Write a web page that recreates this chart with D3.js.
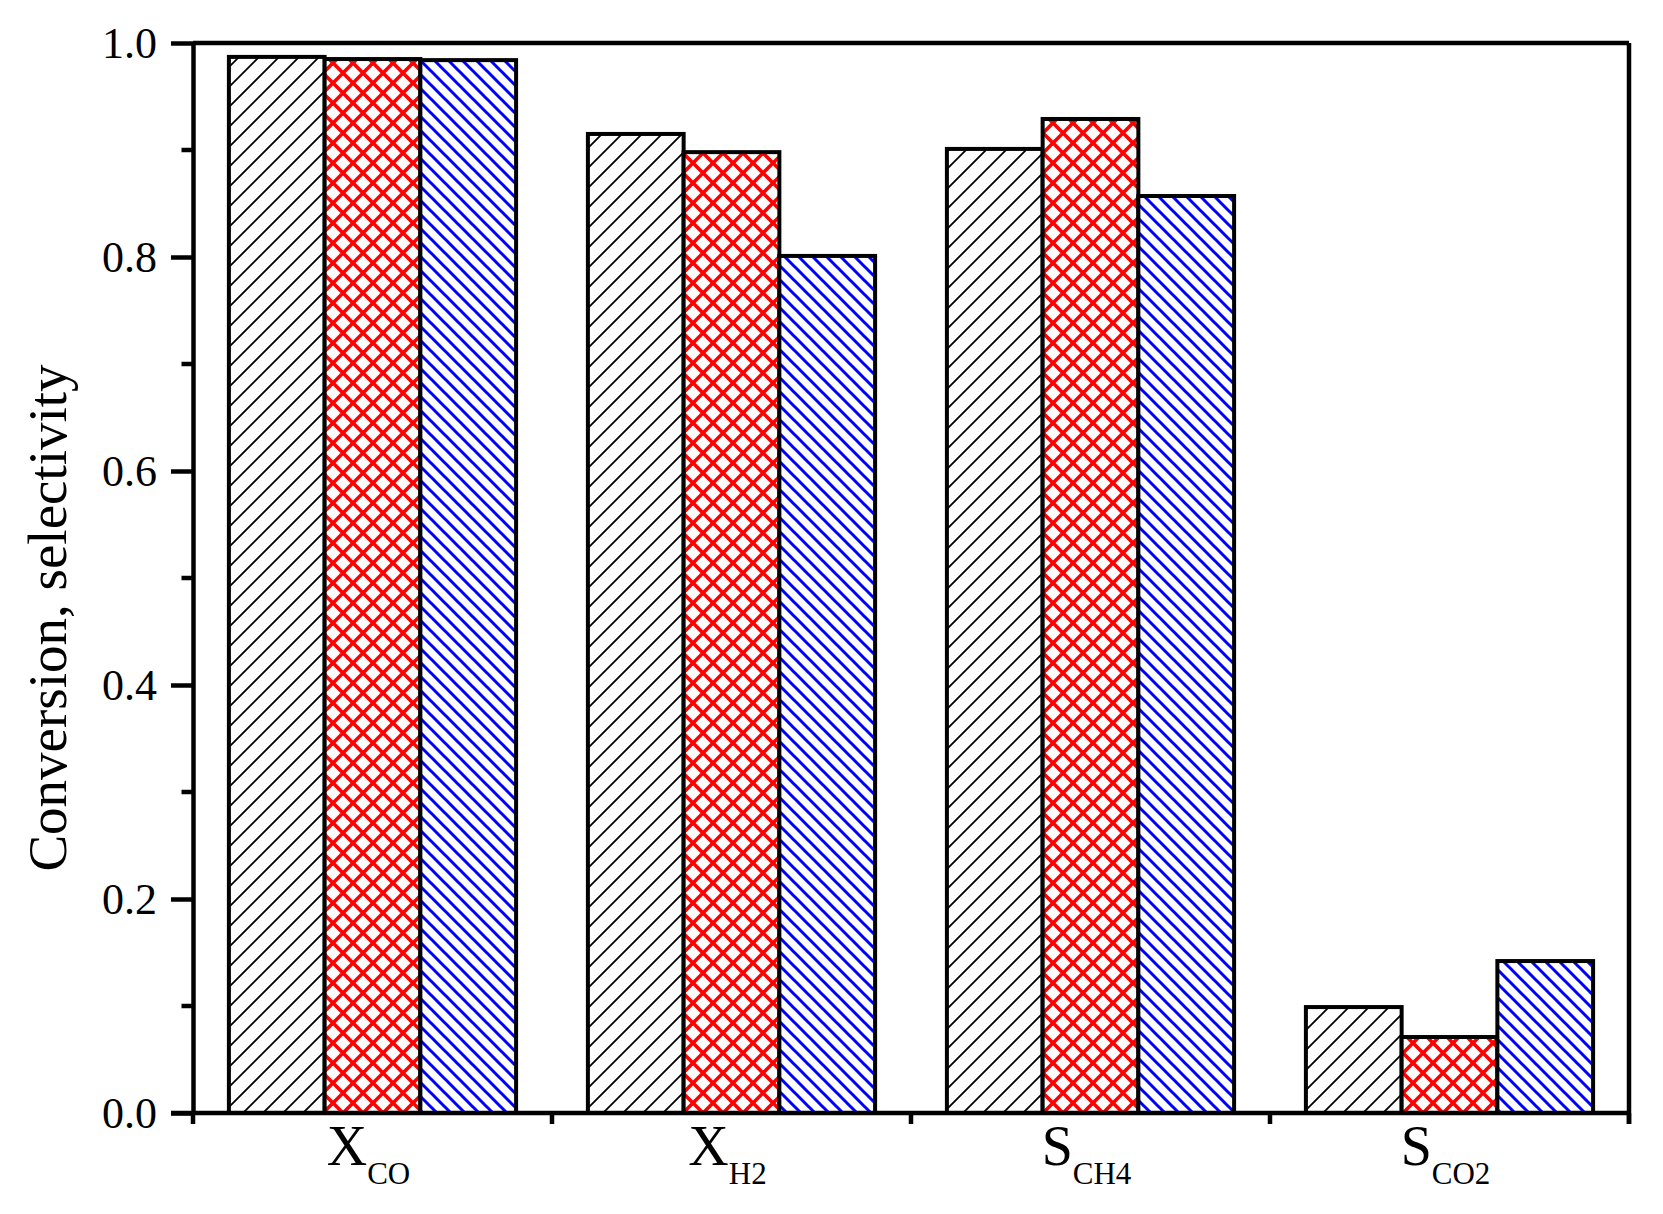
<!DOCTYPE html>
<meta charset="utf-8">
<style>
body { margin: 0; background-color: #ffffff; }
.axis text { font-family: "Liberation Serif", "Times New Roman", serif; font-size: 44px; fill: #000; }
.axis path, .axis line { fill: none; stroke: #000; stroke-width: 4.5px; }
</style>
<head>
<script src="https://d3js.org/d3.v7.min.js"></script>
</head>
<body>
<svg id="chart" width="1663" height="1214"></svg>
<script>
// categories: main letter + subscript
var labelMain = ["X", "X", "S", "S"];
var labelSub  = ["CO", "H2", "CH4", "CO2"];

// three series (black hatch, red cross, blue hatch)
var series1 = [0.987, 0.915, 0.901, 0.099];
var series2 = [0.985, 0.898, 0.929, 0.071];
var series3 = [0.984, 0.801, 0.857, 0.142];

var yTicks = [0, 0.2, 0.4, 0.6, 0.8, 1.0];
var yMinor = [0.1, 0.3, 0.5, 0.7, 0.9];

var svg = d3.select("#chart"),
    margin = {top: 43, right: 34, bottom: 101, left: 193},
    width = +svg.attr("width") - margin.left - margin.right,
    height = +svg.attr("height") - margin.top - margin.bottom;

var g = svg.append("g")
    .attr("transform", "translate(" + margin.left + "," + margin.top + ")");

var x = d3.scaleBand().domain(labelSub).range([0, width]).padding(0);
var xs = d3.scaleBand().domain([0, 1, 2]).range([x.bandwidth() * 0.1, x.bandwidth() * 0.9]);
var y = d3.scaleLinear().domain([0, 1]).range([height, 0]);

// hatch patterns
var defs = svg.append("defs");

var p1 = defs.append("pattern").attr("id", "hatchBlack")
    .attr("patternUnits", "userSpaceOnUse").attr("width", 20).attr("height", 20);
p1.append("rect").attr("width", 20).attr("height", 20).attr("fill", "#fff");
p1.append("path").attr("d", "M-5,5 L5,-5 M0,20 L20,0 M15,25 L25,15")
    .attr("stroke", "#000").attr("stroke-width", 1.8);

var p2 = defs.append("pattern").attr("id", "crossRed")
    .attr("patternUnits", "userSpaceOnUse").attr("width", 20).attr("height", 20);
p2.append("rect").attr("width", 20).attr("height", 20).attr("fill", "#fff");
p2.append("path").attr("d", "M-5,5 L5,-5 M0,20 L20,0 M15,25 L25,15 M-5,15 L5,25 M0,0 L20,20 M15,-5 L25,5")
    .attr("stroke", "#ff0000").attr("stroke-width", 3.6);

var p3 = defs.append("pattern").attr("id", "hatchBlue")
    .attr("patternUnits", "userSpaceOnUse").attr("width", 14).attr("height", 14);
p3.append("rect").attr("width", 14).attr("height", 14).attr("fill", "#fff");
p3.append("path").attr("d", "M-4,10 L4,18 M0,0 L14,14 M10,-4 L18,4")
    .attr("stroke", "#0000ff").attr("stroke-width", 3);

var fills = ["url(#hatchBlack)", "url(#crossRed)", "url(#hatchBlue)"];

var rows = [];
labelSub.forEach(function(c, i) {
  [series1, series2, series3].forEach(function(s, j) {
    rows.push({cat: c, k: j, value: s[i]});
  });
});

g.selectAll(".bar")
    .data(rows)
  .enter().append("rect")
    .attr("class", "bar")
    .attr("x", function(d) { return x(d.cat) + xs(d.k); })
    .attr("y", function(d) { return y(d.value); })
    .attr("width", xs.bandwidth())
    .attr("height", function(d) { return height - y(d.value); })
    .attr("fill", function(d) { return fills[d.k]; })
    .attr("stroke", "#000")
    .attr("stroke-width", 4);

// frame: top and right lines
g.append("line").attr("x1", 0).attr("x2", width).attr("y1", 0).attr("y2", 0)
    .attr("stroke", "#000").attr("stroke-width", 4.5);
g.append("line").attr("x1", width).attr("x2", width).attr("y1", 0).attr("y2", height + 11)
    .attr("stroke", "#000").attr("stroke-width", 4.5);

// y axis
g.append("g")
    .attr("class", "axis axis--y")
    .call(d3.axisLeft(y).tickValues(yTicks).tickFormat(d3.format(".1f")).tickSize(22).tickSizeOuter(0).tickPadding(14))
  .selectAll("text").attr("dy", "0.34em");

g.append("g")
    .attr("class", "axis")
    .selectAll("line")
    .data(yMinor)
  .enter().append("line")
    .attr("x1", -11.5).attr("x2", 0)
    .attr("y1", function(d) { return y(d); })
    .attr("y2", function(d) { return y(d); });

// x axis: ticks at band boundaries
var bounds = labelSub.map(function(c) { return x(c); }).concat([width]);
var gx = g.append("g")
    .attr("class", "axis axis--x")
    .attr("transform", "translate(0," + height + ")");
gx.append("line").attr("x1", -22).attr("x2", width).attr("y1", 0).attr("y2", 0);
gx.selectAll(".xt")
    .data(bounds)
  .enter().append("line")
    .attr("class", "xt")
    .attr("x1", function(d) { return d; }).attr("x2", function(d) { return d; })
    .attr("y1", 0).attr("y2", 11);

// x labels with subscripts
var lab = gx.selectAll(".xlab")
    .data(labelSub)
  .enter().append("text")
    .attr("class", "xlab")
    .attr("x", function(d) { return x(d) + x.bandwidth() / 2 - 4; })
    .attr("y", 52)
    .attr("text-anchor", "middle")
    .style("font-family", "'Liberation Serif', 'Times New Roman', serif");
lab.append("tspan")
    .style("font-size", "56px")
    .text(function(d, i) { return labelMain[i]; });
lab.append("tspan")
    .style("font-size", "31px")
    .attr("dy", 19)
    .text(function(d) { return d; });

// y axis title
svg.append("text")
    .attr("transform", "translate(66,618) rotate(-90)")
    .attr("text-anchor", "middle")
    .style("font-family", "'Liberation Serif', 'Times New Roman', serif")
    .style("font-size", "55px")
    .text("Conversion, selectivity");
</script>
</body>
